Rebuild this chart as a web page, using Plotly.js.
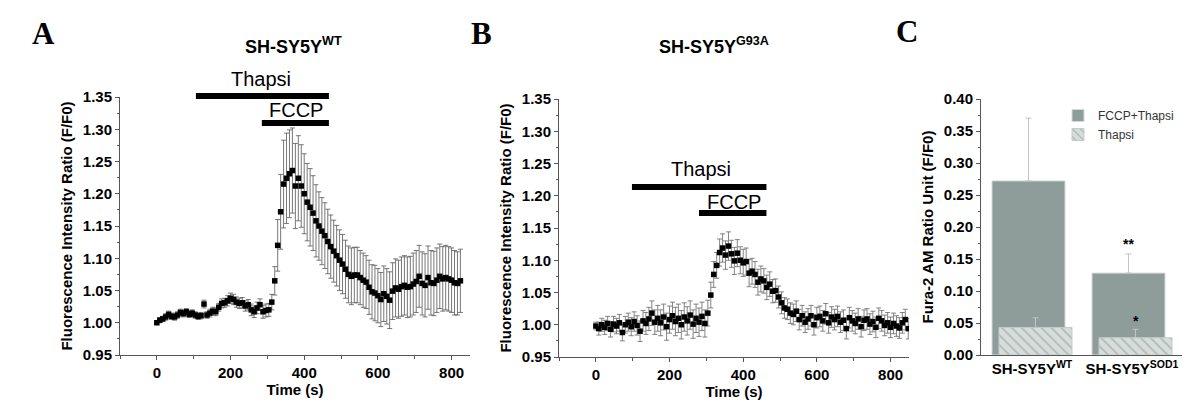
<!DOCTYPE html>
<html>
<head>
<meta charset="utf-8">
<script src="https://cdn.plot.ly/plotly-3.0.1.min.js"></script>
<style>html,body{margin:0;padding:0;background:#fff;}#chart{width:1200px;height:404px;}</style>
</head>
<body>
<div id="chart"></div>
<script>
// ---------- Panel A: SH-SY5Y WT ----------
const timeA = [0,8,16,24,32,40,48,56,64,72,80,88,96,104,112,120,128,136,144,152,160,168,176,184,192,200,208,216,224,232,240,248,256,264,272,280,288,296,304,312,320,328,336,344,352,360,368,376,384,392,400,408,416,424,432,440,448,456,464,472,480,488,496,504,512,520,528,536,544,552,560,568,576,584,592,600,608,616,624,632,640,648,656,664,672,680,688,696,704,712,720,728,736,744,752,760,768,776,784,792,800,808,816,824];
const ratioA = [1.000,1.004,1.006,1.009,1.013,1.010,1.009,1.012,1.016,1.014,
1.017,1.013,1.015,1.012,1.010,1.011,1.029,1.012,1.015,1.018,
1.017,1.024,1.030,1.031,1.034,1.038,1.036,1.032,1.030,1.031,
1.026,1.028,1.020,1.017,1.023,1.028,1.017,1.019,1.020,1.032,
1.065,1.120,1.172,1.215,1.224,1.231,1.236,1.212,1.224,1.212,
1.200,1.187,1.179,1.170,1.158,1.150,1.142,1.135,1.126,1.118,
1.111,1.104,1.097,1.091,1.083,1.075,1.072,1.074,1.074,1.070,
1.066,1.063,1.055,1.048,1.046,1.042,1.036,1.045,1.041,1.035,
1.049,1.054,1.052,1.056,1.058,1.055,1.056,1.060,1.064,1.072,
1.061,1.058,1.070,1.062,1.061,1.066,1.072,1.068,1.070,1.068,
1.066,1.062,1.061,1.065];
const errA = [0.002,0.004,0.004,0.005,0.005,0.005,0.005,0.005,0.005,0.005,
0.005,0.005,0.005,0.005,0.005,0.005,0.006,0.005,0.006,0.006,
0.006,0.006,0.007,0.007,0.008,0.008,0.008,0.008,0.008,0.008,
0.008,0.008,0.009,0.009,0.009,0.009,0.010,0.010,0.010,0.012,
0.022,0.040,0.058,0.068,0.070,0.068,0.066,0.066,0.066,0.064,
0.062,0.060,0.060,0.058,0.056,0.053,0.052,0.051,0.050,0.049,
0.048,0.047,0.047,0.046,0.045,0.044,0.044,0.043,0.043,0.042,
0.042,0.041,0.042,0.042,0.043,0.042,0.042,0.043,0.043,0.044,
0.044,0.045,0.045,0.046,0.046,0.047,0.047,0.048,0.048,0.048,
0.049,0.049,0.049,0.050,0.050,0.050,0.050,0.050,0.050,0.050,
0.050,0.050,0.049,0.049];

// ---------- Panel B: SH-SY5Y G93A ----------
const timeB = [0,8,16,24,32,40,48,56,64,72,80,88,96,104,112,120,128,136,144,152,160,168,176,184,192,200,208,216,224,232,240,248,256,264,272,280,288,296,304,312,320,328,336,344,352,360,368,376,384,392,400,408,416,424,432,440,448,456,464,472,480,488,496,504,512,520,528,536,544,552,560,568,576,584,592,600,608,616,624,632,640,648,656,664,672,680,688,696,704,712,720,728,736,744,752,760,768,776,784,792,800,808,816,824,832,840,848];
const ratioB = [0.998,0.994,1.000,0.996,1.002,0.993,1.001,0.998,1.003,0.988,
1.000,1.004,0.997,1.005,0.999,0.990,1.006,1.002,1.009,1.018,
1.004,1.010,1.003,1.012,0.997,1.008,1.014,1.005,1.010,1.000,
1.012,1.006,1.015,1.001,1.010,1.004,1.013,1.002,1.018,1.046,
1.078,1.092,1.112,1.119,1.108,1.122,1.110,1.099,1.111,1.100,
1.096,1.098,1.080,1.083,1.078,1.066,1.071,1.068,1.058,1.063,
1.052,1.053,1.043,1.034,1.026,1.024,1.018,1.016,1.021,1.008,
1.014,1.004,1.009,1.014,1.000,1.011,1.013,1.006,1.017,1.003,
1.012,1.008,1.013,1.004,1.007,0.994,1.011,1.006,1.002,1.009,
0.997,1.007,1.009,1.001,1.005,0.996,1.010,1.006,0.999,1.003,
0.996,1.002,0.998,0.995,1.003,1.008,0.994];
const errB = [0.006,0.010,0.010,0.011,0.011,0.012,0.012,0.012,0.013,0.013,
0.013,0.014,0.014,0.015,0.015,0.016,0.016,0.017,0.018,0.019,
0.019,0.020,0.020,0.020,0.021,0.021,0.021,0.022,0.022,0.022,
0.022,0.022,0.022,0.022,0.022,0.022,0.022,0.021,0.020,0.020,
0.020,0.020,0.021,0.022,0.022,0.022,0.021,0.021,0.021,0.021,
0.021,0.021,0.021,0.020,0.020,0.020,0.020,0.019,0.019,0.019,
0.018,0.018,0.017,0.017,0.016,0.016,0.016,0.016,0.016,0.016,
0.016,0.016,0.016,0.016,0.016,0.016,0.016,0.016,0.016,0.016,
0.016,0.016,0.016,0.016,0.016,0.016,0.016,0.016,0.016,0.016,
0.016,0.016,0.016,0.016,0.016,0.016,0.016,0.016,0.016,0.016,
0.016,0.016,0.016,0.016,0.016,0.016,0.016];

// Treatment periods (s) for A and B
const thapsiA = [106, 467], fccpA = [285, 467];
const thapsiB = [98, 463],  fccpB = [280, 463];

// ---------- Panel C: bars ----------
const cellLines = ['SH-SY5Y<sup>WT</sup>', 'SH-SY5Y<sup>SOD1</sup>'];
const groupPos = [0, 1];
const fccpThapsi = [0.272, 0.128];
const fccpThapsiErr = [0.098, 0.030];
const thapsiOnly = [0.043, 0.027];
const thapsiOnlyErr = [0.015, 0.013];
const sigFccp = ['', '**'];
const sigThapsi = ['', '*'];

// ---------- helpers ----------
const FONT = 'Liberation Sans, Arial, sans-serif';
const SERIF = 'Liberation Serif, Times New Roman, serif';
const yRangeAB = [0.95, 1.35];
const yd = v => (v - yRangeAB[0]) / (yRangeAB[1] - yRangeAB[0]);
const tickFont = {family: FONT, size: 15, color: '#000', weight: 'bold'};
const titleFont = {family: FONT, size: 15, color: '#000', weight: 'bold'};

function lineAxis(extra) {
  return Object.assign({
    showline: true, linecolor: '#555', linewidth: 1, mirror: false,
    showgrid: false, zeroline: false,
    ticks: 'outside', ticklen: 4, tickcolor: '#555', tickwidth: 1,
    tickfont: tickFont
  }, extra);
}

const traceStyle = {
  type: 'scatter', mode: 'markers',
  marker: {symbol: 'square', size: 5.5, color: '#000'},
  showlegend: false, hoverinfo: 'skip'
};

const traces = [
  Object.assign({}, traceStyle, {
    x: timeA, y: ratioA, xaxis: 'x', yaxis: 'y',
    error_y: {type: 'data', array: errA, color: '#555', thickness: 0.8, width: 2.5}
  }),
  Object.assign({}, traceStyle, {
    x: timeB, y: ratioB, xaxis: 'x2', yaxis: 'y2',
    error_y: {type: 'data', array: errB, color: '#666', thickness: 0.8, width: 2.5}
  }),
  {
    type: 'bar', name: 'FCCP+Thapsi', x: groupPos, y: fccpThapsi,
    xaxis: 'x3', yaxis: 'y3', width: 0.73, offset: -0.40,
    marker: {color: '#8f9d9a', line: {color: '#d4dbd9', width: 1}},
    error_y: {type: 'data', symmetric: false, array: fccpThapsiErr, arrayminus: [0, 0],
              color: '#c4c4c4', thickness: 1, width: 3},
    hoverinfo: 'skip'
  },
  {
    type: 'bar', name: 'Thapsi', x: groupPos, y: thapsiOnly,
    xaxis: 'x3', yaxis: 'y3', width: 0.73, offset: -0.33,
    marker: {color: '#d6dddb', line: {color: '#c3ccc9', width: 1},
             pattern: {shape: '\\', fgcolor: '#a3aeab', bgcolor: '#d6dddb', size: 7, solidity: 0.18}},
    error_y: {type: 'data', symmetric: false, array: thapsiOnlyErr, arrayminus: [0, 0],
              color: '#c4c4c4', thickness: 1, width: 3},
    hoverinfo: 'skip'
  }
];

const shapes = [];
function barShape(xref, yref, span, level) {
  shapes.push({type: 'line', xref: xref, yref: yref, x0: span[0], x1: span[1],
               y0: yd(level), y1: yd(level), line: {color: '#000', width: 6}});
}
barShape('x', 'y domain', thapsiA, 1.3516);
barShape('x', 'y domain', fccpA, 1.3097);
barShape('x2', 'y2 domain', thapsiB, 1.2136);
barShape('x2', 'y2 domain', fccpB, 1.1733);

const labelFont = {family: FONT, size: 20, color: '#000'};
function ann(o) {
  return Object.assign({showarrow: false, xanchor: 'center', yanchor: 'middle'}, o);
}
const letterFont = {family: SERIF, size: 31, color: '#000', weight: 'bold'};
const headFont = {family: FONT, size: 18, color: '#000', weight: 'bold'};
const annotations = [
  ann({text: 'A', xref: 'paper', yref: 'paper', x: 43/1200, y: 1 - 34/404, font: letterFont}),
  ann({text: 'B', xref: 'paper', yref: 'paper', x: 481/1200, y: 1 - 34/404, font: letterFont}),
  ann({text: 'C', xref: 'paper', yref: 'paper', x: 907/1200, y: 1 - 32/404, font: letterFont}),
  ann({text: 'SH-SY5Y<sup>WT</sup>', xref: 'paper', yref: 'paper', x: 293/1200, y: 1 - 46/404, font: headFont}),
  ann({text: 'SH-SY5Y<sup>G93A</sup>', xref: 'paper', yref: 'paper', x: 714/1200, y: 1 - 46/404, font: headFont}),
  ann({text: 'Thapsi', xref: 'x', yref: 'y domain', x: 282, y: yd(1.3775), font: labelFont}),
  ann({text: 'FCCP', xref: 'x', yref: 'y domain', x: 377, y: yd(1.3295), font: labelFont}),
  ann({text: 'Thapsi', xref: 'x2', yref: 'y2 domain', x: 286, y: yd(1.2420), font: labelFont}),
  ann({text: 'FCCP', xref: 'x2', yref: 'y2 domain', x: 376, y: yd(1.1910), font: labelFont})
];
const starFont = {family: FONT, size: 14, color: '#000', weight: 'bold'};
groupPos.forEach((g, i) => {
  if (sigFccp[i]) annotations.push(ann({text: sigFccp[i], xref: 'x3', yref: 'y3',
    x: g - 0.40 + 0.365, y: fccpThapsi[i] + fccpThapsiErr[i], yanchor: 'bottom', yshift: 0, font: starFont}));
  if (sigThapsi[i]) annotations.push(ann({text: sigThapsi[i], xref: 'x3', yref: 'y3',
    x: g - 0.33 + 0.365, y: thapsiOnly[i] + thapsiOnlyErr[i], yanchor: 'bottom', yshift: -2, font: starFont}));
});

const layout = {
  width: 1200, height: 404,
  margin: {l: 0, r: 0, t: 0, b: 0},
  paper_bgcolor: '#fff', plot_bgcolor: 'rgba(0,0,0,0)',
  font: {family: FONT, color: '#000'},
  barmode: 'overlay',
  xaxis: lineAxis({domain: [120/1200, 470/1200], range: [-100, 850], anchor: 'y',
    tick0: 0, dtick: 200, minor: {dtick: 100, ticks: 'outside', ticklen: 2.5, tickcolor: '#555'},
    title: {text: 'Time (s)', font: titleFont, standoff: 2}}),
  yaxis: lineAxis({domain: [1 - 355/404, 1 - 97/404], range: yRangeAB, anchor: 'x',
    tick0: 0.95, dtick: 0.05, tickformat: '.2f',
    minor: {dtick: 0.025, ticks: 'outside', ticklen: 2.5, tickcolor: '#555'},
    title: {text: 'Fluorescence Intensity Ratio (F/F0)', font: titleFont, standoff: 6}}),
  xaxis2: lineAxis({domain: [559/1200, 909/1200], range: [-100, 850], anchor: 'y2',
    tick0: 0, dtick: 200, minor: {dtick: 100, ticks: 'outside', ticklen: 2.5, tickcolor: '#555'},
    title: {text: 'Time (s)', font: titleFont, standoff: 2}}),
  yaxis2: lineAxis({domain: [1 - 357/404, 1 - 99/404], range: yRangeAB, anchor: 'x2',
    tick0: 0.95, dtick: 0.05, tickformat: '.2f',
    minor: {dtick: 0.025, ticks: 'outside', ticklen: 2.5, tickcolor: '#555'},
    title: {text: 'Fluorescence Intensity Ratio (F/F0)', font: titleFont, standoff: 6}}),
  xaxis3: lineAxis({domain: [981/1200, 1182/1200], range: [-0.51, 1.5], anchor: 'y3',
    tickmode: 'array', tickvals: groupPos, ticktext: cellLines, ticks: ''}),
  yaxis3: lineAxis({domain: [1 - 355/404, 1 - 99/404], range: [0, 0.40], anchor: 'x3',
    tick0: 0, dtick: 0.05, tickformat: '.2f',
    minor: {dtick: 0.025, ticks: 'outside', ticklen: 2.5, tickcolor: '#555'},
    title: {text: 'Fura-2 AM Ratio Unit (F/F0)', font: titleFont, standoff: 6}}),
  showlegend: true,
  legend: {x: 1058/1200, y: 1 - 101/404, xanchor: 'left', yanchor: 'top',
    bgcolor: 'rgba(0,0,0,0)', font: {family: FONT, size: 12, color: '#333'},
    tracegroupgap: 0, itemwidth: 30},
  shapes: shapes,
  annotations: annotations
};

Plotly.newPlot('chart', traces, layout, {staticPlot: true, displayModeBar: false});
</script>
</body>
</html>
